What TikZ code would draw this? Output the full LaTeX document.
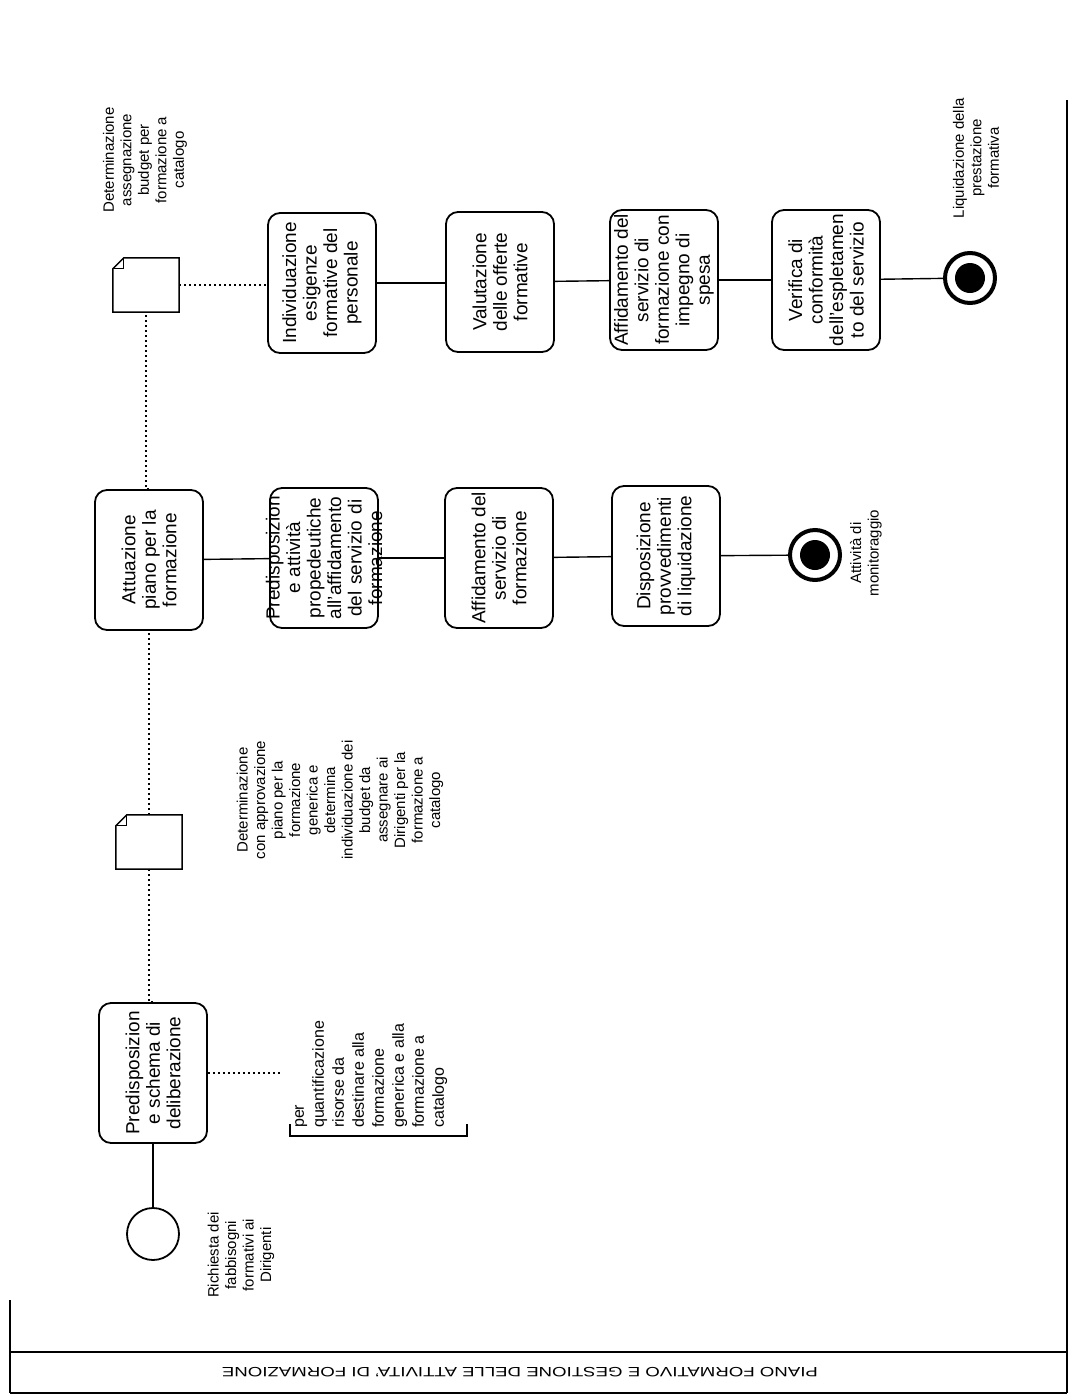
\documentclass[tikz,border=0pt]{standalone}
\usepackage{fontspec}
\setmainfont{Liberation Sans}
\begin{document}
\begin{tikzpicture}[x=1pt,y=-1pt,
  task/.style={draw, line width=1.8pt, rounded corners=12pt, minimum width=108pt, minimum height=140pt, inner sep=0pt},
  ttext/.style={rotate=90, align=center, inner sep=0pt, font=\fontsize{19}{20.5}\selectfont},
  lbl/.style={rotate=90, align=center, inner sep=0pt, font=\fontsize{15}{17.5}\selectfont},
  doc/.style={minimum width=66pt, minimum height=54pt, inner sep=0pt},
  flow/.style={line width=1.4pt},
  assoc/.style={line width=1.7pt, dash pattern=on 1.7pt off 3.3pt},
  endev/.style={circle, draw, line width=4pt, minimum size=50pt, inner sep=0pt},
  startev/.style={circle, draw, line width=1.8pt, minimum size=52pt, inner sep=0pt},
  frame/.style={line width=1.5pt}]
\useasboundingbox (0,0) rectangle (1073,1395);

% frame and title band
\draw[frame] (10,1352) -- (1067,1352);
\draw[frame] (10,1393) -- (1067,1393);
\draw[frame] (10,1300) -- (10,1393);
\draw[frame] (1067,100) -- (1067,1393);
\node[rotate=180, inner sep=0pt, font=\fontsize{13.5}{15}\selectfont] (title) at (520,1372)
  {\scalebox{1.38}[1]{PIANO FORMATIVO E GESTIONE DELLE ATTIVITA' DI FORMAZIONE}};

% start event
\node[startev] (s) at (153,1234) {};
\node[lbl] (sl) at (241,1255) {Richiesta dei\\fabbisogni\\formativi ai\\Dirigenti};

% column 1
\node[task] (b1) at (153,1073) {};
\node[ttext] at (b1) {Predisposizion\\e schema di\\deliberazione};
\node[doc] (d2) at (149,842) {};
\node[task] (a2) at (149,560) {};
\node[ttext] at (a2) {Attuazione\\piano per la\\formazione};
\node[doc] (d1) at (146,285) {};

% documents
\foreach \d in {d1,d2}{
  \draw[line width=1.5pt] ([yshift=-11pt]\d.north west) -- ([xshift=11pt]\d.north west) -- (\d.north east) -- (\d.south east) -- (\d.south west) -- cycle;
  \draw[line width=1.3pt] ([yshift=-11pt]\d.north west) -- ([xshift=11pt,yshift=-11pt]\d.north west) -- ([xshift=11pt]\d.north west);
}

% row 2
\node[task] (p2) at (324,558) {};
\node[ttext, text width=136pt] at (p2) {Predisposizion\\e attività\\propedeutiche\\all'affidamento\\del servizio di\\formazione};
\node[task] (af) at (499,558) {};
\node[ttext] at (af) {Affidamento del\\servizio di\\formazione};
\node[task] (dp) at (666,556) {};
\node[ttext] at (dp) {Disposizione\\provvedimenti\\di liquidazione};
\node[endev] (e1) at (815,555) {};
\fill (e1) circle (15pt);
\node[lbl] (e1l) at (866,553) {Attività di\\monitoraggio};

% row 1
\node[task] (ind) at (322,283) {};
\node[ttext] at (ind) {Individuazione\\esigenze\\formative del\\personale};
\node[task] (val) at (500,282) {};
\node[ttext] at (val) {Valutazione\\delle offerte\\formative};
\node[task] (aff) at (664,280) {};
\node[ttext] at (aff) {Affidamento del\\servizio di\\formazione con\\impegno di\\spesa};
\node[task] (ver) at (826,280) {};
\node[ttext] at (ver) {Verifica di\\conformità\\dell'espletamen\\to del servizio};
\node[endev] (e2) at (970,278) {};
\fill (e2) circle (15pt);
\node[lbl] (e2l) at (976,158) {Liquidazione della\\prestazione\\formativa};

% labels of documents
\node[lbl] (d1l) at (145,160) {Determinazione\\assegnazione\\budget per\\formazione a\\catalogo};
\node[lbl] (d2l) at (340,800) {Determinazione\\con approvazione\\piano per la\\formazione\\generica e\\determina\\individuazione dei\\budget da\\assegnare ai\\Dirigenti per la\\formazione a\\catalogo};

% annotation
\node[rotate=90, align=left, anchor=north west, inner sep=0pt, font=\fontsize{16}{20}\selectfont] (ann) at (295,1128)
  {per\\quantificazione\\risorse da\\destinare alla\\formazione\\generica e alla\\formazione a\\catalogo};
\coordinate (annA) at (282,1073);
\coordinate (brA) at (290,1124);
\coordinate (brB) at (290,1136);
\coordinate (brC) at (467,1136);
\coordinate (brD) at (467,1124);
\draw[line width=1.5pt] (brA) -- (brB) -- (brC) -- (brD);

% sequence flows
\draw[flow] (s) -- (b1);
\draw[flow] (a2) -- (p2);
\draw[flow] (p2) -- (af);
\draw[flow] (af) -- (dp);
\draw[flow] (dp) -- (e1);
\draw[flow] (ind.east) -- (val.west |- ind.east);
\draw[flow] (val) -- (aff);
\draw[flow] (aff) -- (ver);
\draw[flow] (ver) -- (e2);

% associations
\draw[assoc] (b1.north) -- (b1.north -| d2.south) -- (d2.south);
\draw[assoc] (d2.north) -- (d2.north -| a2.south) -- (a2.south);
\draw[assoc] (a2.north) -- (a2.north -| d1.south) -- (d1.south);
\draw[assoc] (d1.east) -- (d1.east -| ind.west);
\draw[assoc] (b1.east) -- (annA);
\end{tikzpicture}
\end{document}
